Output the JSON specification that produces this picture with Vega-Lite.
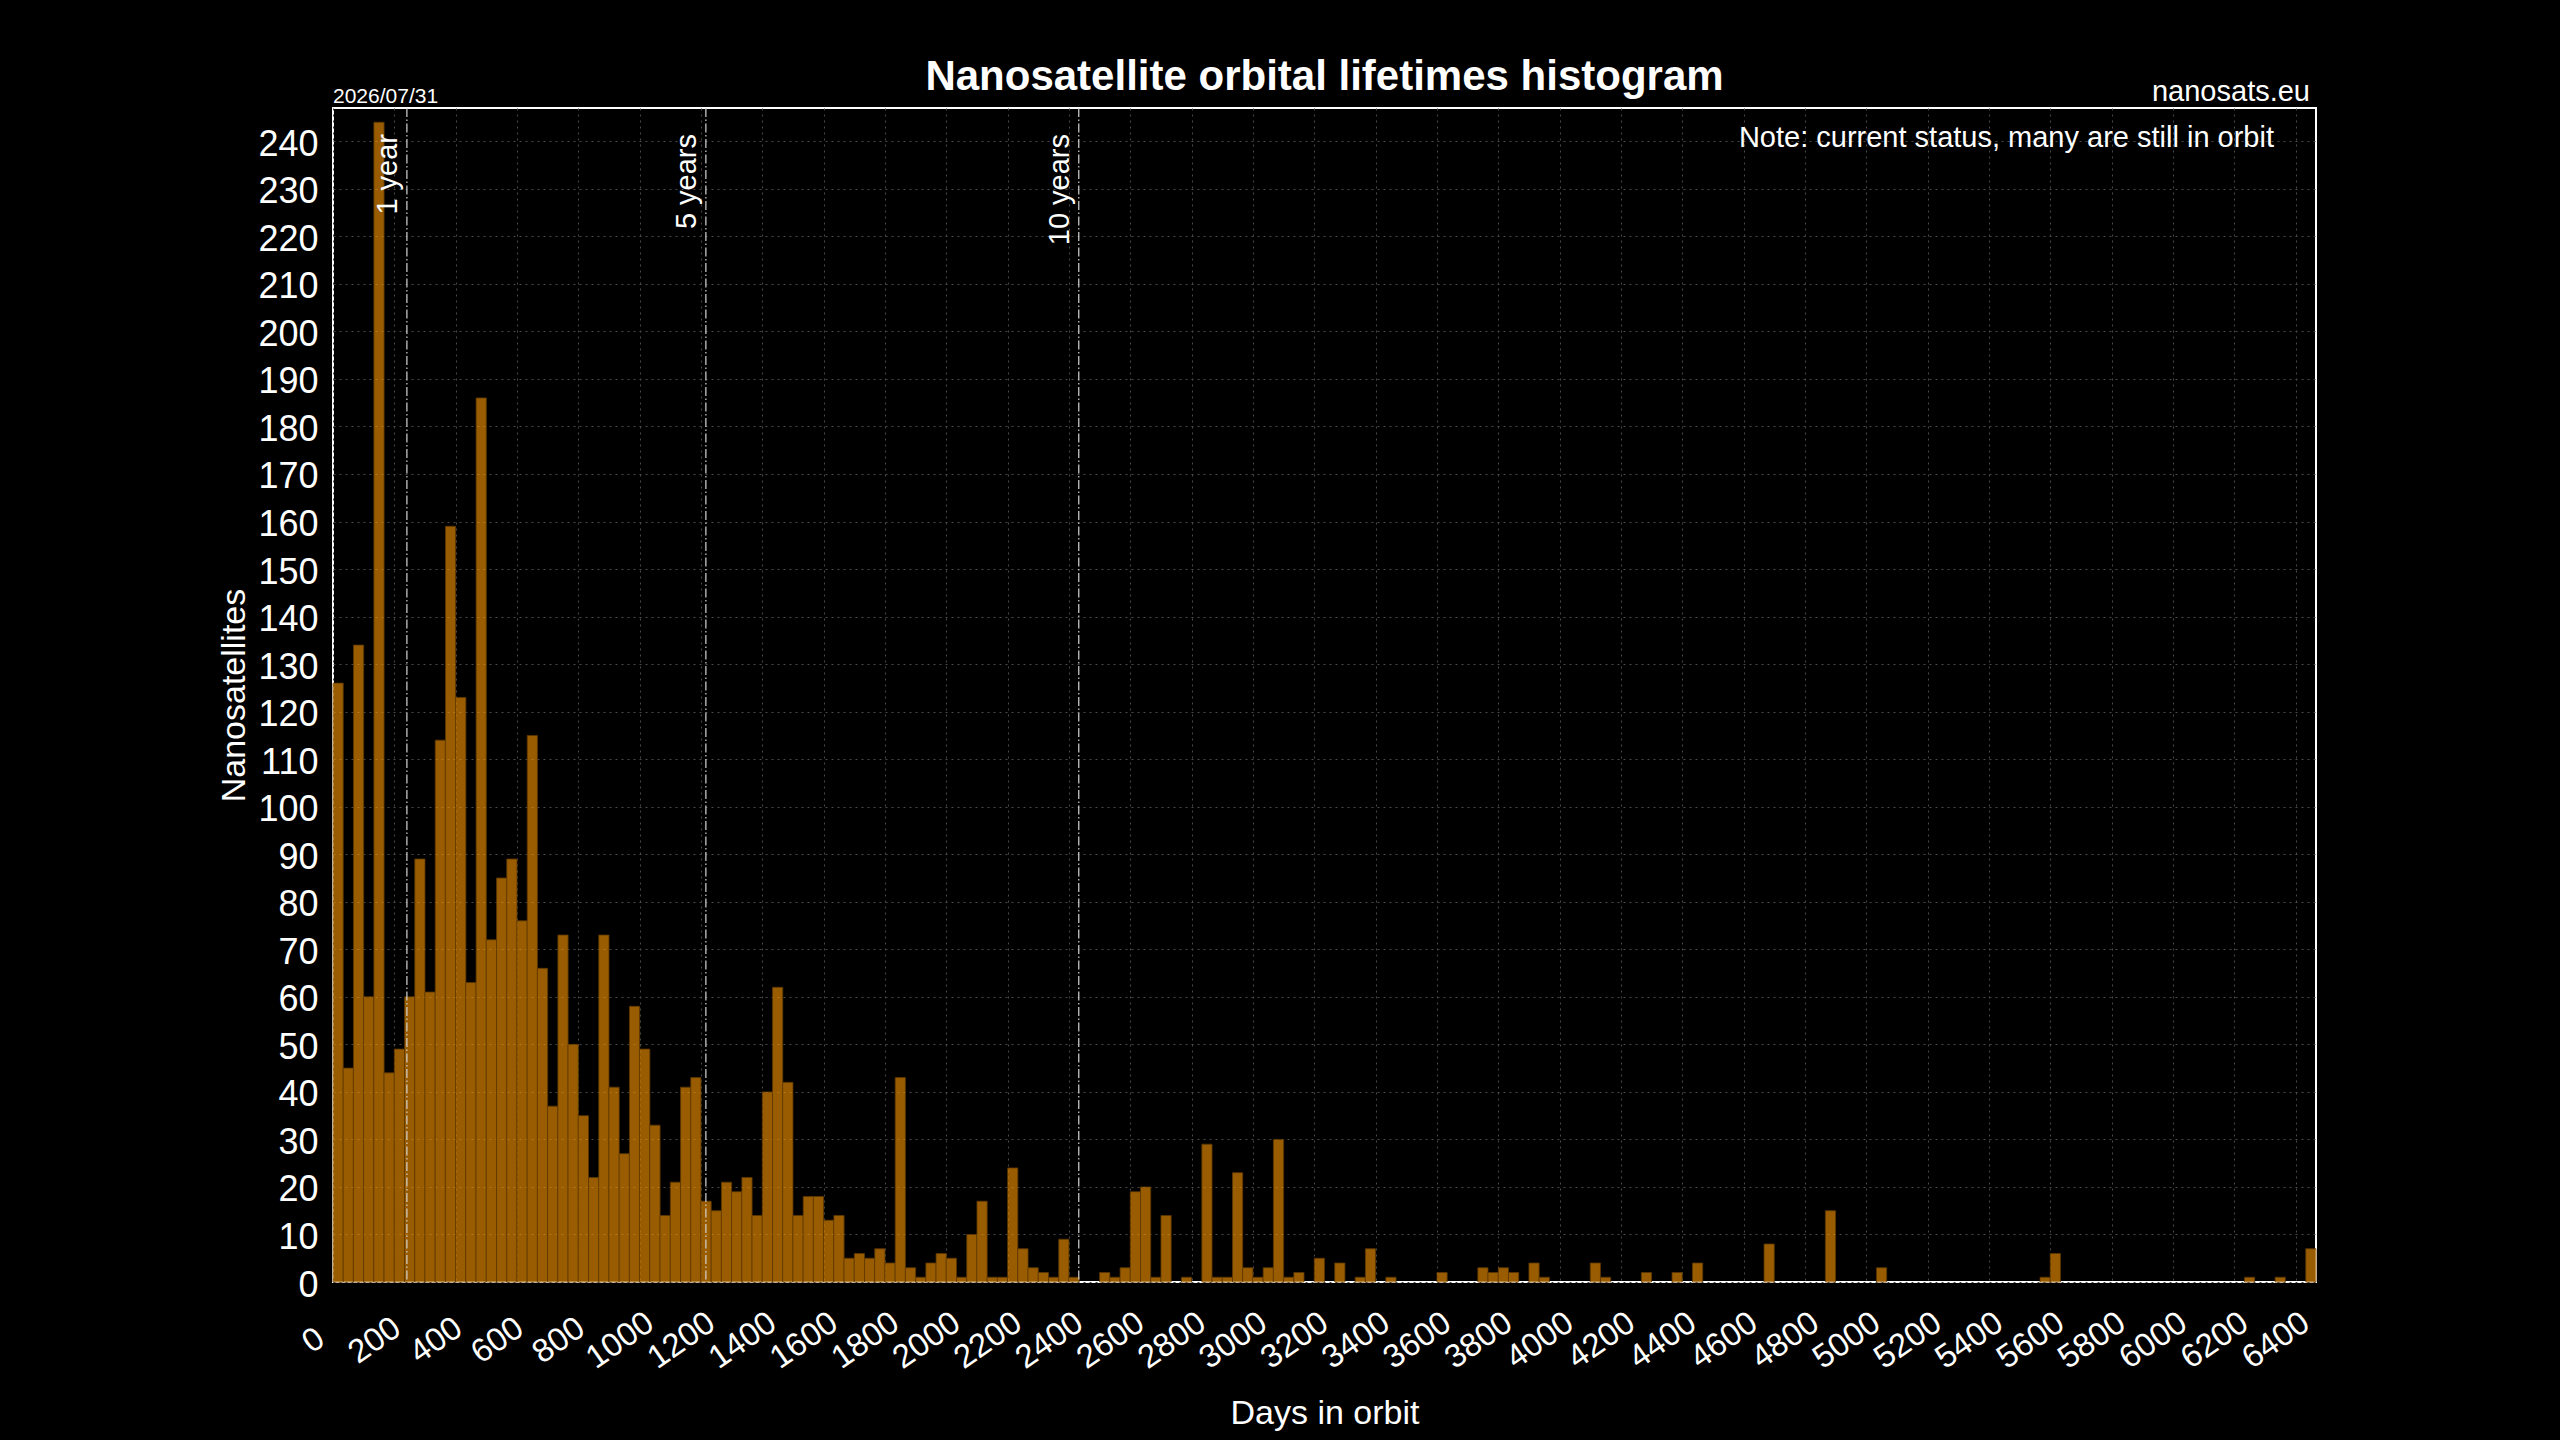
{
  "$schema": "https://vega.github.io/schema/vega-lite/v6.json",
  "width": 1983,
  "height": 1174,
  "autosize": {"type": "none"},
  "padding": {"left": 333, "top": 108, "right": 244, "bottom": 158},
  "background": "black",
  "title": {
    "text": "Nanosatellite orbital lifetimes histogram",
    "font": "Liberation Sans",
    "fontSize": 42,
    "fontWeight": "bold",
    "color": "white",
    "anchor": "middle",
    "offset": -21
  },
  "datasets": {
    "bins": [
      {"start": 0, "end": 33.33, "count": 126},
      {"start": 33.33, "end": 66.67, "count": 45},
      {"start": 66.67, "end": 100, "count": 134},
      {"start": 100, "end": 133.33, "count": 60},
      {"start": 133.33, "end": 166.67, "count": 244},
      {"start": 166.67, "end": 200, "count": 44},
      {"start": 200, "end": 233.33, "count": 49},
      {"start": 233.33, "end": 266.67, "count": 60},
      {"start": 266.67, "end": 300, "count": 89},
      {"start": 300, "end": 333.33, "count": 61},
      {"start": 333.33, "end": 366.67, "count": 114},
      {"start": 366.67, "end": 400, "count": 159},
      {"start": 400, "end": 433.33, "count": 123},
      {"start": 433.33, "end": 466.67, "count": 63},
      {"start": 466.67, "end": 500, "count": 186},
      {"start": 500, "end": 533.33, "count": 72},
      {"start": 533.33, "end": 566.67, "count": 85},
      {"start": 566.67, "end": 600, "count": 89},
      {"start": 600, "end": 633.33, "count": 76},
      {"start": 633.33, "end": 666.67, "count": 115},
      {"start": 666.67, "end": 700, "count": 66},
      {"start": 700, "end": 733.33, "count": 37},
      {"start": 733.33, "end": 766.67, "count": 73},
      {"start": 766.67, "end": 800, "count": 50},
      {"start": 800, "end": 833.33, "count": 35},
      {"start": 833.33, "end": 866.67, "count": 22},
      {"start": 866.67, "end": 900, "count": 73},
      {"start": 900, "end": 933.33, "count": 41},
      {"start": 933.33, "end": 966.67, "count": 27},
      {"start": 966.67, "end": 1000, "count": 58},
      {"start": 1000, "end": 1033.33, "count": 49},
      {"start": 1033.33, "end": 1066.67, "count": 33},
      {"start": 1066.67, "end": 1100, "count": 14},
      {"start": 1100, "end": 1133.33, "count": 21},
      {"start": 1133.33, "end": 1166.67, "count": 41},
      {"start": 1166.67, "end": 1200, "count": 43},
      {"start": 1200, "end": 1233.33, "count": 17},
      {"start": 1233.33, "end": 1266.67, "count": 15},
      {"start": 1266.67, "end": 1300, "count": 21},
      {"start": 1300, "end": 1333.33, "count": 19},
      {"start": 1333.33, "end": 1366.67, "count": 22},
      {"start": 1366.67, "end": 1400, "count": 14},
      {"start": 1400, "end": 1433.33, "count": 40},
      {"start": 1433.33, "end": 1466.67, "count": 62},
      {"start": 1466.67, "end": 1500, "count": 42},
      {"start": 1500, "end": 1533.33, "count": 14},
      {"start": 1533.33, "end": 1566.67, "count": 18},
      {"start": 1566.67, "end": 1600, "count": 18},
      {"start": 1600, "end": 1633.33, "count": 13},
      {"start": 1633.33, "end": 1666.67, "count": 14},
      {"start": 1666.67, "end": 1700, "count": 5},
      {"start": 1700, "end": 1733.33, "count": 6},
      {"start": 1733.33, "end": 1766.67, "count": 5},
      {"start": 1766.67, "end": 1800, "count": 7},
      {"start": 1800, "end": 1833.33, "count": 4},
      {"start": 1833.33, "end": 1866.67, "count": 43},
      {"start": 1866.67, "end": 1900, "count": 3},
      {"start": 1900, "end": 1933.33, "count": 1},
      {"start": 1933.33, "end": 1966.67, "count": 4},
      {"start": 1966.67, "end": 2000, "count": 6},
      {"start": 2000, "end": 2033.33, "count": 5},
      {"start": 2033.33, "end": 2066.67, "count": 1},
      {"start": 2066.67, "end": 2100, "count": 10},
      {"start": 2100, "end": 2133.33, "count": 17},
      {"start": 2133.33, "end": 2166.67, "count": 1},
      {"start": 2166.67, "end": 2200, "count": 1},
      {"start": 2200, "end": 2233.33, "count": 24},
      {"start": 2233.33, "end": 2266.67, "count": 7},
      {"start": 2266.67, "end": 2300, "count": 3},
      {"start": 2300, "end": 2333.33, "count": 2},
      {"start": 2333.33, "end": 2366.67, "count": 1},
      {"start": 2366.67, "end": 2400, "count": 9},
      {"start": 2400, "end": 2433.33, "count": 1},
      {"start": 2500, "end": 2533.33, "count": 2},
      {"start": 2533.33, "end": 2566.67, "count": 1},
      {"start": 2566.67, "end": 2600, "count": 3},
      {"start": 2600, "end": 2633.33, "count": 19},
      {"start": 2633.33, "end": 2666.67, "count": 20},
      {"start": 2666.67, "end": 2700, "count": 1},
      {"start": 2700, "end": 2733.33, "count": 14},
      {"start": 2766.67, "end": 2800, "count": 1},
      {"start": 2833.33, "end": 2866.67, "count": 29},
      {"start": 2866.67, "end": 2900, "count": 1},
      {"start": 2900, "end": 2933.33, "count": 1},
      {"start": 2933.33, "end": 2966.67, "count": 23},
      {"start": 2966.67, "end": 3000, "count": 3},
      {"start": 3000, "end": 3033.33, "count": 1},
      {"start": 3033.33, "end": 3066.67, "count": 3},
      {"start": 3066.67, "end": 3100, "count": 30},
      {"start": 3100, "end": 3133.33, "count": 1},
      {"start": 3133.33, "end": 3166.67, "count": 2},
      {"start": 3200, "end": 3233.33, "count": 5},
      {"start": 3266.67, "end": 3300, "count": 4},
      {"start": 3333.33, "end": 3366.67, "count": 1},
      {"start": 3366.67, "end": 3400, "count": 7},
      {"start": 3433.33, "end": 3466.67, "count": 1},
      {"start": 3600, "end": 3633.33, "count": 2},
      {"start": 3733.33, "end": 3766.67, "count": 3},
      {"start": 3766.67, "end": 3800, "count": 2},
      {"start": 3800, "end": 3833.33, "count": 3},
      {"start": 3833.33, "end": 3866.67, "count": 2},
      {"start": 3900, "end": 3933.33, "count": 4},
      {"start": 3933.33, "end": 3966.67, "count": 1},
      {"start": 4100, "end": 4133.33, "count": 4},
      {"start": 4133.33, "end": 4166.67, "count": 1},
      {"start": 4266.67, "end": 4300, "count": 2},
      {"start": 4366.67, "end": 4400, "count": 2},
      {"start": 4433.33, "end": 4466.67, "count": 4},
      {"start": 4666.67, "end": 4700, "count": 8},
      {"start": 4866.67, "end": 4900, "count": 15},
      {"start": 5033.33, "end": 5066.67, "count": 3},
      {"start": 5566.67, "end": 5600, "count": 1},
      {"start": 5600, "end": 5633.33, "count": 6},
      {"start": 6233.33, "end": 6266.67, "count": 1},
      {"start": 6333.33, "end": 6366.67, "count": 1},
      {"start": 6433.33, "end": 6466.67, "count": 7}
    ],
    "years": [
      {"day": 241, "label": "1 year"},
      {"day": 1216, "label": "5 years"},
      {"day": 2432, "label": "10 years"}
    ]
  },
  "layer": [
    {
      "data": {"name": "bins"},
      "mark": {
        "type": "rect",
        "fill": "#ff9900",
        "fillOpacity": 0.6,
        "stroke": "#5c3700",
        "strokeWidth": 0.8
      },
      "encoding": {
        "x": {
          "field": "start",
          "type": "quantitative",
          "title": "Days in orbit",
          "scale": {"domain": [0, 6466.67], "nice": false, "zero": false},
          "axis": {
            "values": [0, 200, 400, 600, 800, 1000, 1200, 1400, 1600, 1800, 2000, 2200, 2400, 2600, 2800, 3000, 3200, 3400, 3600, 3800, 4000, 4200, 4400, 4600, 4800, 5000, 5200, 5400, 5600, 5800, 6000, 6200, 6400],
            "format": "d",
            "labelAngle": -35,
            "labelAlign": "center",
            "labelBaseline": "middle",
            "labelPadding": 58,
            "labelOffset": -20,
            "labelFlush": false,
            "labelOverlap": false,
            "labelBound": false,
            "labelFontSize": 33,
            "titleFontSize": 34,
            "titlePadding": 22
          }
        },
        "x2": {"field": "end"},
        "y": {
          "field": "count",
          "type": "quantitative",
          "title": "Nanosatellites",
          "scale": {"domain": [0, 247], "nice": false},
          "axis": {
            "values": [0, 10, 20, 30, 40, 50, 60, 70, 80, 90, 100, 110, 120, 130, 140, 150, 160, 170, 180, 190, 200, 210, 220, 230, 240],
            "format": "d",
            "labelFontSize": 36,
            "labelPadding": 15,
            "labelOffset": 3,
            "labelOverlap": false,
            "titleFontSize": 34,
            "titlePadding": 6
          }
        },
        "y2": {"datum": 0}
      }
    },
    {
      "data": {"name": "years"},
      "mark": {
        "type": "rule",
        "stroke": "#d4d4d4",
        "strokeWidth": 1.2,
        "strokeDash": [9, 2.5, 1.5, 2.5]
      },
      "encoding": {
        "x": {"field": "day", "type": "quantitative"}
      }
    },
    {
      "data": {"name": "years"},
      "mark": {
        "type": "text",
        "angle": 270,
        "align": "right",
        "baseline": "alphabetic",
        "dx": -26,
        "dy": -10,
        "font": "Liberation Sans",
        "fontSize": 29,
        "color": "white"
      },
      "encoding": {
        "x": {"field": "day", "type": "quantitative"},
        "y": {"datum": 247},
        "text": {"field": "label"}
      }
    },
    {
      "data": {"values": [{"label": "2026/07/31"}]},
      "mark": {
        "type": "text",
        "align": "left",
        "baseline": "alphabetic",
        "dy": -5,
        "font": "Liberation Sans",
        "fontSize": 21,
        "color": "white"
      },
      "encoding": {
        "x": {"datum": 0},
        "y": {"datum": 247},
        "text": {"field": "label"}
      }
    },
    {
      "data": {"values": [{"label": "nanosats.eu"}]},
      "mark": {
        "type": "text",
        "align": "right",
        "baseline": "alphabetic",
        "dx": -6,
        "dy": -7,
        "font": "Liberation Sans",
        "fontSize": 29,
        "color": "white"
      },
      "encoding": {
        "x": {"datum": 6466.67},
        "y": {"datum": 247},
        "text": {"field": "label"}
      }
    },
    {
      "data": {"values": [{"label": "Note: current status, many are still in orbit"}]},
      "mark": {
        "type": "text",
        "align": "right",
        "baseline": "alphabetic",
        "dx": -42,
        "dy": 39,
        "font": "Liberation Sans",
        "fontSize": 29,
        "color": "white"
      },
      "encoding": {
        "x": {"datum": 6466.67},
        "y": {"datum": 247},
        "text": {"field": "label"}
      }
    }
  ],
  "config": {
    "font": "Liberation Sans",
    "view": {"stroke": "white", "strokeWidth": 2},
    "axis": {
      "domain": false,
      "ticks": false,
      "tickSize": 0,
      "grid": true,
      "gridColor": "#4a4a4a",
      "gridDash": [2, 4],
      "gridWidth": 1,
      "labelColor": "white",
      "titleColor": "white",
      "labelFont": "Liberation Sans",
      "titleFont": "Liberation Sans",
      "titleFontWeight": "normal"
    }
  }
}
